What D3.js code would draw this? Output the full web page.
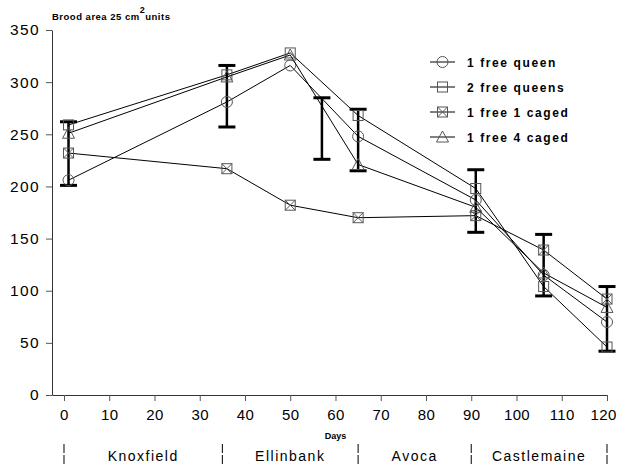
<!DOCTYPE html>
<html>
<head>
<meta charset="utf-8">
<script src="https://cdn.jsdelivr.net/npm/d3@7.9.0/dist/d3.min.js"></script>
<style>
  body { margin: 0; background: #fff; }
  svg { display: block; font-family: "Liberation Sans", Arial, sans-serif; }
</style>
</head>
<body>
<svg width="619" height="466"></svg>
<script>
// sampling days and mean brood area per treatment
const days = [1, 36, 50, 65, 91, 106, 120];
const oneFreeQueen = [206, 281, 316, 248, 187, 115, 70];
const twoFreeQueens = [259, 307, 328, 268, 198, 104, 46];
const oneFreeOneCaged = [232, 217, 182, 170, 172, 139, 92];
const oneFreeFourCaged = [251, 305, 326, 221, 180, 117, 84];

// error bars (low, high)
const errDays = [1, 36, 57, 65, 91, 106, 120];
const errLow = [201, 257, 226, 215, 156, 95, 42];
const errHigh = [262, 316, 285, 274, 216, 154, 104];

const yTicks = [0, 50, 100, 150, 200, 250, 300, 350];
const xTicks = [0, 10, 20, 30, 40, 50, 60, 70, 80, 90, 100, 110, 120];

const sites = ['Knoxfield', 'Ellinbank', 'Avoca', 'Castlemaine'];
const siteBounds = [0, 35, 65, 90, 120];

const series = [
  { name: '1 free queen', values: oneFreeQueen, shape: 'circle' },
  { name: '2 free queens', values: twoFreeQueens, shape: 'square' },
  { name: '1 free 1 caged', values: oneFreeOneCaged, shape: 'xsquare' },
  { name: '1 free 4 caged', values: oneFreeFourCaged, shape: 'triangle' }
];

const svg = d3.select('svg');
const x = d3.scaleLinear().domain([-2.65, 120]).range([52, 607]);
const y = d3.scaleLinear().domain([0, 350]).range([395, 30]);

// y axis
const yAxis = svg.append('g')
  .attr('transform', `translate(${x(-2.65)},0)`)
  .call(d3.axisLeft(y).tickValues(yTicks).tickSize(6).tickSizeOuter(0).tickPadding(6));
yAxis.selectAll('text')
  .attr('font-size', 15.5).attr('letter-spacing', 1.4).attr('fill', '#000');

// x axis
const xAxis = svg.append('g')
  .attr('transform', `translate(0,${y(0)})`)
  .call(d3.axisBottom(x).tickValues(xTicks).tickSize(6).tickSizeOuter(0).tickPadding(8));
xAxis.selectAll('text')
  .attr('font-size', 15).attr('letter-spacing', 0.4).attr('fill', '#000');
xAxis.select('.tick:last-of-type text').attr('dx', -4);
svg.selectAll('.domain').attr('stroke', '#333');
svg.selectAll('.tick line').attr('stroke', '#555');

svg.append('text')
  .attr('x', x(60)).attr('y', 439)
  .attr('text-anchor', 'middle')
  .attr('font-size', 9).attr('font-weight', 'bold')
  .text('Days');

// title
const title = svg.append('text')
  .attr('x', 52).attr('y', 20)
  .attr('font-size', 9.5).attr('font-weight', 'bold').attr('letter-spacing', 0.5);
title.append('tspan').text('Brood area 25 cm');
title.append('tspan').attr('dy', -7).attr('font-size', 9).text('2');
title.append('tspan').attr('dy', 7).text('units');

// site strip
siteBounds.forEach((d) => {
  svg.append('line')
    .attr('x1', x(d)).attr('x2', x(d))
    .attr('y1', 444).attr('y2', 466)
    .attr('stroke', '#000').attr('stroke-width', 1)
    .attr('stroke-dasharray', '9,2');
});
sites.forEach((s, i) => {
  svg.append('text')
    .attr('x', (x(siteBounds[i]) + x(siteBounds[i + 1])) / 2)
    .attr('y', 461)
    .attr('text-anchor', 'middle')
    .attr('font-size', 14).attr('letter-spacing', 1.5)
    .text(s);
});

function drawMarker(g, shape, cx, cy) {
  const st = { stroke: '#555', fill: 'none', w: 1 };
  if (shape === 'circle') {
    g.append('circle').attr('cx', cx).attr('cy', cy).attr('r', 5.5)
      .attr('fill', st.fill).attr('stroke', st.stroke).attr('stroke-width', st.w);
  } else if (shape === 'square' || shape === 'xsquare') {
    g.append('rect').attr('x', cx - 5).attr('y', cy - 5).attr('width', 10).attr('height', 10)
      .attr('fill', st.fill).attr('stroke', st.stroke).attr('stroke-width', st.w);
    if (shape === 'xsquare') {
      g.append('path')
        .attr('d', `M${cx - 5},${cy - 5}L${cx + 5},${cy + 5}M${cx + 5},${cy - 5}L${cx - 5},${cy + 5}`)
        .attr('stroke', st.stroke).attr('stroke-width', st.w);
    }
  } else {
    g.append('path')
      .attr('d', `M${cx},${cy - 6}L${cx + 6},${cy + 5}L${cx - 6},${cy + 5}Z`)
      .attr('fill', st.fill).attr('stroke', st.stroke).attr('stroke-width', st.w);
  }
}

// error bars
const eb = svg.append('g').attr('stroke', '#000');
errDays.forEach((d, i) => {
  const cx = x(d);
  eb.append('line').attr('x1', cx).attr('x2', cx)
    .attr('y1', y(errLow[i])).attr('y2', y(errHigh[i])).attr('stroke-width', 2.5);
  [errLow[i], errHigh[i]].forEach((v) => {
    eb.append('line').attr('x1', cx - 8.5).attr('x2', cx + 8.5)
      .attr('y1', y(v)).attr('y2', y(v)).attr('stroke-width', 3);
  });
});

// series lines and markers
const line = d3.line().x((d) => x(d[0])).y((d) => y(d[1]));
series.forEach((s) => {
  const pts = days.map((d, i) => [d, s.values[i]]);
  svg.append('path').attr('d', line(pts))
    .attr('fill', 'none').attr('stroke', '#000').attr('stroke-width', 1);
  const g = svg.append('g');
  pts.forEach((p) => drawMarker(g, s.shape, x(p[0]), y(p[1])));
});

// legend
const legend = svg.append('g');
series.forEach((s, i) => {
  const ly = 62 + i * 25;
  legend.append('line').attr('x1', 430).attr('x2', 455)
    .attr('y1', ly).attr('y2', ly).attr('stroke', '#000');
  drawMarker(legend, s.shape, 442.5, ly);
  legend.append('text')
    .attr('x', 467).attr('y', ly + 4.5)
    .attr('font-size', 12).attr('font-weight', 'bold').attr('letter-spacing', 1.6)
    .text(s.name);
});
</script>
</body>
</html>
